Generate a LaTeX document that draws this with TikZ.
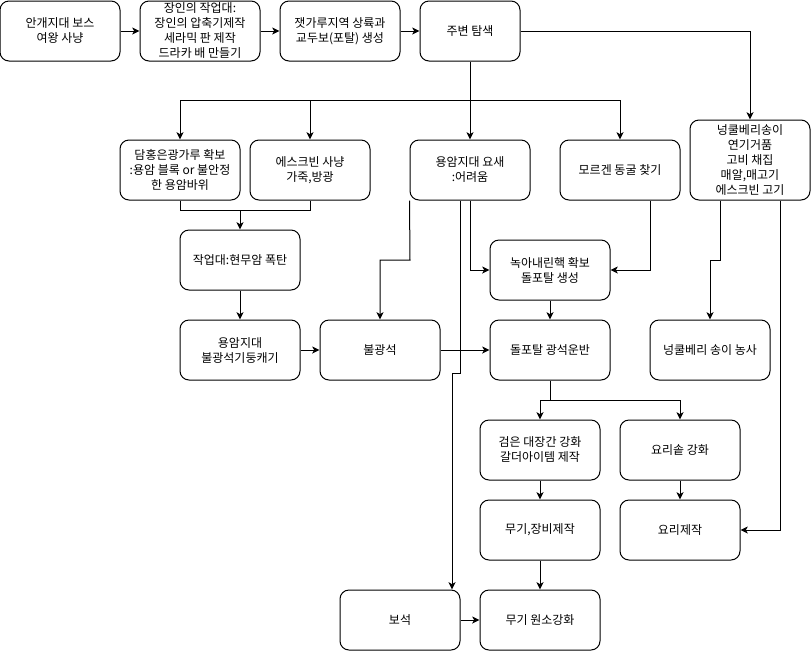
\documentclass[tikz,border=0pt]{standalone}
\usepackage{fontspec}
\newfontfamily\kr{Noto Sans CJK KR}
\usetikzlibrary{arrows.meta,calc}
\begin{document}
\begin{tikzpicture}[x=0.75pt,y=-0.75pt,
  box/.style={draw,line width=0.75pt,rounded corners=6.75pt,minimum width=90pt,minimum height=45pt,
    inner sep=0pt,align=center,font=\kr\fontsize{9}{11.25}\selectfont},
  ln/.style={line width=0.75pt},
  arr/.style={ln,-{Stealth[length=5.5pt,width=5.25pt,inset=1.5pt]}}]
\useasboundingbox[fill=white] (0,0) rectangle (811,651);
% nodes
\node[box] (A) at (60,31) {안개지대 보스\\여왕 사냥};
\node[box] (B) at (200,31) {장인의 작업대:\\장인의 압축기제작\\세라믹 판 제작\\드라카 배 만들기};
\node[box] (C) at (340,31) {잿가루지역 상륙과\\교두보(포탈) 생성};
\node[box,minimum width=75pt] (D) at (470,31) {주변 탐색};
\node[box] (E) at (180,170) {담홍은광가루 확보\\:용암 블록 or 불안정\\한 용암바위};
\node[box] (F) at (310,170) {에스크빈 사냥\\가죽,방광};
\node[box] (G) at (470,170) {용암지대 요새\\:어려움};
\node[box] (H) at (620,170) {모르겐 동굴 찾기};
\node[box,minimum height=60pt] (I) at (750,160) {넝쿨베리송이\\연기거품\\고비 채집\\매알,매고기\\에스크빈 고기};
\node[box] (J) at (240,260) {작업대:현무암 폭탄};
\node[box] (K) at (240,350) {용암지대\\불광석기둥캐기};
\node[box] (L) at (380,350) {불광석};
\node[box] (M) at (550,270) {녹아내린핵 확보\\돌포탈 생성};
\node[box] (N) at (550,350) {돌포탈 광석운반};
\node[box] (O) at (710,350) {넝쿨베리 송이 농사};
\node[box] (P) at (540,450) {검은 대장간 강화\\갈더아이템 제작};
\node[box] (Q) at (680,450) {요리솥 강화};
\node[box] (R) at (540,530) {무기,장비제작};
\node[box] (S) at (680,530) {요리제작};
\node[box] (T) at (400,620) {보석};
\node[box] (U) at (540,620) {무기 원소강화};
% top row
\draw[arr] (A) -- (B);
\draw[arr] (B) -- (C);
\draw[arr] (C) -- (D);
\draw[arr] (D.east) -| (I.north);
\draw[arr] (D.south) -- (G.north);
\coordinate (br) at (470,100);
\draw[arr] (br) -| (E.north);
\draw[arr] (br) -| (F.north);
\draw[arr] (br) -| (H.north);
% E,F -> J
\coordinate (ej) at (240,210);
\draw[ln] (E.south) |- (ej);
\draw[ln] (F.south) |- (ej);
\draw[arr] (ej) -- (J.north);
\draw[arr] (J) -- (K);
\draw[arr] (K) -- (L);
% G outputs
\draw[arr] (G.south west) -- (410,260) -| (L.north);
\draw[arr] (G.south) ++(-10,0) -- ++(0,173) -- ++(-8,0) -- (T.north -| 452,0);
\draw[arr] (G.south) |- (M.west);
\draw[arr] (H.south) ++(30,0) |- (M.east);
\draw[arr] (M) -- (N);
\draw[arr] (L) -- (N);
% I outputs
\draw[arr] (I.south) ++(-30,0) -- ++(0,60) -| (O.north);
\draw[arr] (I.south) ++(30,0) |- (S.east);
% N split
\coordinate (ns) at (550,400);
\draw[ln] (N.south) -- (ns);
\draw[arr] (ns) -| (P.north);
\draw[arr] (ns) -| (Q.north);
\draw[arr] (P) -- (R);
\draw[arr] (Q) -- (S);
\draw[arr] (R) -- (U);
\draw[arr] (T) -- (U);
\end{tikzpicture}
\end{document}
